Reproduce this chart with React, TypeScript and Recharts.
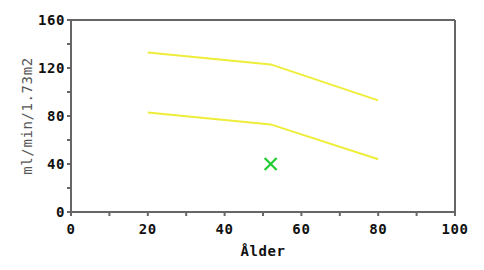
import React from 'react';
import { ComposedChart, Line, Scatter, XAxis, YAxis, ReferenceLine, Label } from 'recharts';

const upperAges = [20, 52, 80];
const upperValues = [133, 123, 93];
const lowerAges = [20, 52, 80];
const lowerValues = [83, 73, 44];
const patientAge = [52];
const patientValue = [40];
const xTicks = [0, 10, 20, 30, 40, 50, 60, 70, 80, 90, 100];
const yTicks = [0, 20, 40, 60, 80, 100, 120, 140, 160];

const upper = upperAges.map((x, i) => ({ x, y: upperValues[i] }));
const lower = lowerAges.map((x, i) => ({ x, y: lowerValues[i] }));
const patient = patientAge.map((x, i) => ({ x, y: patientValue[i] }));

const font = '"DejaVu Sans Mono", monospace';
const axisColor = '#666';

const XTick = ({ x, y, payload }: any) =>
  payload.value % 20 === 0 ? (
    <text x={x} y={y + 16} textAnchor="middle" fontFamily={font} fontWeight="bold" fontSize={14} letterSpacing={0.6} fill="#111">
      {payload.value}
    </text>
  ) : null;

const YTick = ({ x, y, payload }: any) =>
  payload.value % 40 === 0 ? (
    <text x={x} y={y + 5} textAnchor="end" fontFamily={font} fontWeight="bold" fontSize={14} letterSpacing={0.6} fill="#111">
      {payload.value}
    </text>
  ) : null;

const Cross = ({ cx, cy }: any) => (
  <g stroke="#22cc33" strokeWidth={2.2}>
    <line x1={cx - 6} y1={cy - 6} x2={cx + 6} y2={cy + 6} />
    <line x1={cx - 6} y1={cy + 6} x2={cx + 6} y2={cy - 6} />
  </g>
);

export default function App() {
  return (
    <div style={{ position: 'absolute', left: 0, top: 0, background: '#fff' }}>
      <ComposedChart width={484} height={270} margin={{ top: 20, right: 29, bottom: 0, left: 0 }}>
        <XAxis
          type="number"
          dataKey="x"
          domain={[0, 100]}
          ticks={xTicks}
          interval={0}
          tick={<XTick />}
          tickSize={4}
          stroke={axisColor}
          strokeWidth={2}
          height={58}
        >
          <Label value="Ålder" position="insideTop" offset={34} style={{ fontFamily: font, fontWeight: 'bold', fontSize: 14, letterSpacing: 0.6, fill: '#111' }} />
        </XAxis>
        <YAxis
          type="number"
          dataKey="y"
          domain={[0, 160]}
          ticks={yTicks}
          interval={0}
          tick={<YTick />}
          tickSize={4}
          stroke={axisColor}
          strokeWidth={2}
          width={71}
        >
          <Label value="ml/min/1.73m2" angle={-90} position="insideLeft" offset={27} style={{ fontFamily: font, fontSize: 14, letterSpacing: 0.6, fill: '#555', textAnchor: 'middle' }} />
        </YAxis>
        <ReferenceLine y={160} stroke={axisColor} strokeWidth={2} />
        <ReferenceLine x={100} stroke={axisColor} strokeWidth={2} />
        <Line data={upper} dataKey="y" stroke="#eeee3a" strokeWidth={2} dot={false} isAnimationActive={false} />
        <Line data={lower} dataKey="y" stroke="#eeee3a" strokeWidth={2} dot={false} isAnimationActive={false} />
        <Scatter data={patient} dataKey="y" shape={<Cross />} isAnimationActive={false} />
      </ComposedChart>
    </div>
  );
}
